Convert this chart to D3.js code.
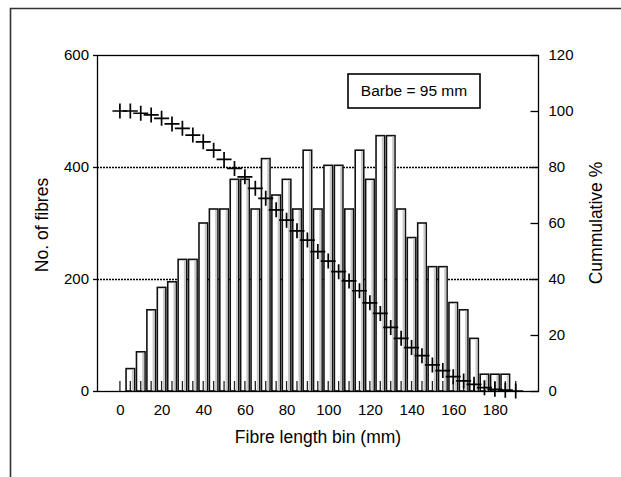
<!DOCTYPE html>
<html>
<head>
    <meta charset="utf-8" />
    <title>Fibre length distribution</title>
    <style>
    	body { margin: 0; background: #fff; }
    	text { font-family: "Liberation Sans", Arial, sans-serif; fill: #000; }
    </style>
</head>
<body>
<script src="https://d3js.org/d3.v7.min.js"></script>
<script>

	// fibre length bins (mm)
	var bins = [0, 5, 10, 15, 20, 25, 30, 35, 40, 45, 50, 55, 60, 65, 70, 75, 80, 85, 90, 95,
	            100, 105, 110, 115, 120, 125, 130, 135, 140, 145, 150, 155, 160, 165, 170, 175, 180, 185, 190];

	// No. of fibres per bin
	var counts = [0, 40, 70, 145, 185, 195, 235, 235, 300, 325, 325, 378, 378, 325, 415, 350, 378, 325, 430, 325,
	              403, 403, 325, 430, 378, 456, 456, 325, 274, 300, 222, 222, 158, 145, 94, 30, 30, 30, 0];

	// cumulative % (right axis)
	var cumulative = [100, 100, 99.2, 98.6, 97.4, 95.4, 93.8, 91.4, 89, 86, 82.7, 79.5, 76.5, 72.4, 68.8, 64.7, 61, 57.2, 53.9, 49.8,
	                  46.4, 42.6, 39.3, 35.8, 31.5, 27.7, 22.7, 18.8, 15.5, 12.6, 9.3, 7.3, 5.1, 3.6, 2.4, 1.2, 0.6, 0.3, 0];

	var xTicks = [0, 20, 40, 60, 80, 100, 120, 140, 160, 180];
	var leftTicks = [0, 200, 400, 600];
	var rightTicks = [0, 20, 40, 60, 80, 100, 120];
	var gridTicks = [200, 400];
	var noteText = "Barbe = 95 mm";

	var width = 621;
	var height = 477;
	var margin = {"left":97, "right":83, "top":55, "bottom":86};
	var plotW = width - margin.left - margin.right;
	var plotH = height - margin.top - margin.bottom;

	var svg = d3.select("body").append("svg")
				.attr("width", width)
				.attr("height", height);

	// outer frame (only top and left edges are inside the picture)
	svg.append("path")
	   .attr("d", "M10.5," + height + "V8.5H" + width)
	   .attr("fill", "none")
	   .attr("stroke", "#333")
	   .attr("stroke-width", 1.6);

	var xScale = d3.scaleLinear()
				   .domain([-11, 200.7])
				   .range([margin.left, margin.left + plotW]);

	var yLeft = d3.scaleLinear()
				  .domain([0, 600])
				  .range([margin.top + plotH, margin.top]);

	var yRight = d3.scaleLinear()
				   .domain([0, 120])
				   .range([margin.top + plotH, margin.top]);

	var step = xScale(5) - xScale(0);
	var barW = step * 0.82;

	// dotted gridlines
	svg.append("g").selectAll("line")
	   .data(gridTicks)
	   .join("line")
	   .attr("x1", margin.left)
	   .attr("x2", margin.left + plotW)
	   .attr("y1", d => Math.round(yLeft(d)) + 0.5)
	   .attr("y2", d => Math.round(yLeft(d)) + 0.5)
	   .attr("stroke", "#000")
	   .attr("stroke-width", 1.3)
	   .attr("stroke-dasharray", "2,1");

	// bars
	var bar = svg.append("g").selectAll("g")
				 .data(bins.map((b, i) => ({bin: b, n: counts[i]})).filter(d => d.n > 0))
				 .join("g");

	bar.append("rect")
	   .attr("x", d => xScale(d.bin) - barW / 2)
	   .attr("y", d => yLeft(d.n))
	   .attr("width", barW)
	   .attr("height", d => yLeft(0) - yLeft(d.n))
	   .attr("fill", "#fff")
	   .attr("stroke", "#111")
	   .attr("stroke-width", 1.6);

	bar.append("rect")
	   .attr("x", d => xScale(d.bin) + barW / 2 - 2.8)
	   .attr("y", d => yLeft(d.n) + 1)
	   .attr("width", 2)
	   .attr("height", d => yLeft(0) - yLeft(d.n) - 1)
	   .attr("fill", "#c8c8c8");

	// inner tick marks on the bottom axis, one per bin
	svg.append("g").selectAll("line")
	   .data(bins)
	   .join("line")
	   .attr("x1", d => xScale(d))
	   .attr("x2", d => xScale(d))
	   .attr("y1", yLeft(0))
	   .attr("y2", yLeft(0) - 10)
	   .attr("stroke", "#222")
	   .attr("stroke-width", 1.3);

	// plot box
	svg.append("rect")
	   .attr("x", margin.left + 0.5)
	   .attr("y", margin.top + 0.5)
	   .attr("width", plotW)
	   .attr("height", plotH)
	   .attr("fill", "none")
	   .attr("stroke", "#000")
	   .attr("stroke-width", 1.3);

	// left axis
	var leftAxis = d3.axisLeft(yLeft).tickValues(leftTicks).tickSize(4).tickPadding(4);
	svg.append("g")
	   .attr("transform", "translate(" + margin.left + ",0)")
	   .call(leftAxis)
	   .call(g => g.select(".domain").remove())
	   .call(g => g.selectAll("line").attr("stroke", "#000").attr("stroke-width", 1.3))
	   .call(g => g.selectAll("text").style("font-size", "15px").style("font-family", "Liberation Sans, Arial, sans-serif"));

	// right axis, ticks pointing into the plot
	var rightAxis = d3.axisRight(yRight).tickValues(rightTicks).tickSize(-8).tickPadding(10);
	svg.append("g")
	   .attr("transform", "translate(" + (margin.left + plotW + 0.5) + ",0)")
	   .call(rightAxis)
	   .call(g => g.select(".domain").remove())
	   .call(g => g.selectAll("line").attr("stroke", "#000").attr("stroke-width", 1.3))
	   .call(g => g.selectAll("text").style("font-size", "15px").style("font-family", "Liberation Sans, Arial, sans-serif"));

	// bottom axis labels
	var bottomAxis = d3.axisBottom(xScale).tickValues(xTicks).tickSize(0).tickPadding(13);
	svg.append("g")
	   .attr("transform", "translate(0," + (margin.top + plotH) + ")")
	   .call(bottomAxis)
	   .call(g => g.select(".domain").remove())
	   .call(g => g.selectAll("text").style("font-size", "15px").style("font-family", "Liberation Sans, Arial, sans-serif"));

	// cumulative % markers
	svg.append("g").selectAll("path")
	   .data(bins.map((b, i) => ({bin: b, c: cumulative[i]})))
	   .join("path")
	   .attr("d", d => {
	   		var x = xScale(d.bin), y = yRight(d.c);
	   		return "M" + (x - 7.5) + "," + y + "H" + (x + 7.5) + "M" + x + "," + (y - 7.5) + "V" + (y + 7.5);
	   })
	   .attr("stroke", "#000")
	   .attr("stroke-width", 1.7)
	   .attr("fill", "none");

	// note box
	svg.append("rect")
	   .attr("x", 348)
	   .attr("y", 74)
	   .attr("width", 132)
	   .attr("height", 34)
	   .attr("fill", "#fff")
	   .attr("stroke", "#000")
	   .attr("stroke-width", 1.6);

	svg.append("text")
	   .attr("x", 414)
	   .attr("y", 91)
	   .attr("dy", ".35em")
	   .style("text-anchor", "middle")
	   .style("font-size", "15.5px")
	   .text(noteText);

	// axis titles
	svg.append("text")
	   .attr("transform", "translate(48," + (margin.top + plotH / 2 + 2) + ") rotate(-90)")
	   .style("text-anchor", "middle")
	   .style("font-size", "17.5px")
	   .text("No. of fibres");

	svg.append("text")
	   .attr("transform", "translate(602," + (margin.top + plotH / 2) + ") rotate(-90)")
	   .style("text-anchor", "middle")
	   .style("font-size", "17.5px")
	   .text("Cummulative %");

	svg.append("text")
	   .attr("x", 318)
	   .attr("y", 437)
	   .attr("dy", ".35em")
	   .style("text-anchor", "middle")
	   .style("font-size", "17.5px")
	   .text("Fibre length bin (mm)");

</script>
</body>
</html>
